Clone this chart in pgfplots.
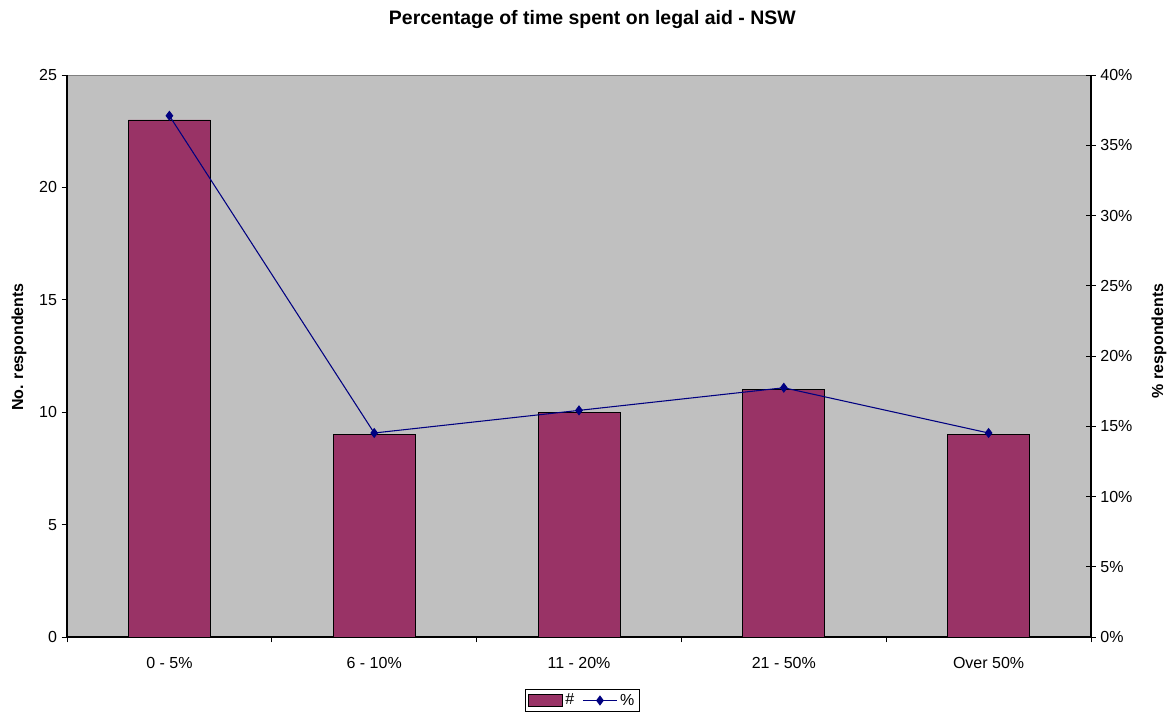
\documentclass[border=0pt]{standalone}
\usepackage{pgfplots}
\pgfplotsset{compat=1.18}
\usepackage{fontspec}
\setmainfont{Liberation Sans}
\definecolor{barfill}{HTML}{993366}
\definecolor{plotbg}{HTML}{C0C0C0}
\definecolor{navyline}{HTML}{000080}
\pgfplotsset{
  barlegend/.style={legend image code/.code={\draw[##1] (0cm,-4.5pt) rectangle (0.9cm,4.5pt);}},
  linelegend/.style={legend image code/.code={\draw[mark repeat=2,mark phase=2,##1] plot coordinates {(0cm,0cm) (0.45cm,0cm) (0.9cm,0cm)};}},
}
\begin{document}
\begin{tikzpicture}[font=\fontsize{12}{14}\selectfont]
\useasboundingbox (-50.25pt,-60.75pt) rectangle (831.75pt,477.75pt);
\pgfplotsset{
  base/.style={
    scale only axis, width=768pt, height=421.5pt,
    at={(0,0)}, anchor=south west,
    xmin=-0.5, xmax=4.5,
    /pgf/number format/assume math mode=true,
    tick label style={font=\fontsize{12}{14}\selectfont},
    label style={font=\bfseries\fontsize{12}{14}\selectfont},
  }
}
\begin{axis}[base,
  ymin=0, ymax=25, ytick={0,5,...,25},
  axis x line*=bottom, axis y line*=left,
  axis line style={black, line width=0.8pt},
  axis background/.style={fill=plotbg, draw=gray},
  xtick={0,1,2,3,4},
  xticklabels={0 - 5\%, 6 - 10\%, 11 - 20\%, 21 - 50\%, Over 50\%},
  major x tick style={draw=none},
  minor xtick={-0.5,0.5,1.5,2.5,3.5,4.5},
  minor tick length=4pt,
  tick align=outside,
  major tick length=4pt,
  tick style={black, line width=0.6pt},
  xticklabel style={yshift=-8pt},
  ylabel={No. respondents},
  ylabel style={at={(axis description cs:-0.0469,0.516)}, anchor=center},
  ybar, bar width=61.5pt,
]
\addplot[ybar, fill=barfill, draw=black, line width=0.6pt] coordinates {(0,23) (1,9) (2,10) (3,11) (4,9)};
\end{axis}
\begin{axis}[base,
  ymin=0, ymax=40, ytick={0,5,...,40},
  yticklabel={\pgfmathprintnumber{\tick}\%},
  axis x line=none, axis y line*=right,
  axis line style={black, line width=0.8pt},
  tick align=center, major tick length=7pt,
  tick style={black, line width=0.6pt},
  ylabel={\% respondents},
  ylabel style={at={(axis description cs:1.0664,0.527)}, anchor=center},
  legend style={at={(axis description cs:0.5034,-0.113)}, anchor=center, legend columns=2,
    draw=black, line width=0.6pt, font=\fontsize{12}{14}\selectfont,
    inner xsep=2pt, inner ysep=1.5pt, /tikz/every even column/.append style={column sep=4pt}},
  legend cell align=left,
]
\addlegendimage{barlegend, fill=barfill, draw=black, line width=0.6pt}
\addlegendentry{\#}
\addplot[linelegend, navyline, line width=0.8pt, mark=diamond*, mark size=3.2pt, mark options={fill=navyline}]
  coordinates {(0,37.10) (1,14.52) (2,16.13) (3,17.74) (4,14.52)};
\addlegendentry{\%}
\end{axis}
\node[font=\bfseries\fontsize{14.6}{17}\selectfont, anchor=base] at (394pt,459pt) {Percentage of time spent on legal aid - NSW};
\end{tikzpicture}
\end{document}
